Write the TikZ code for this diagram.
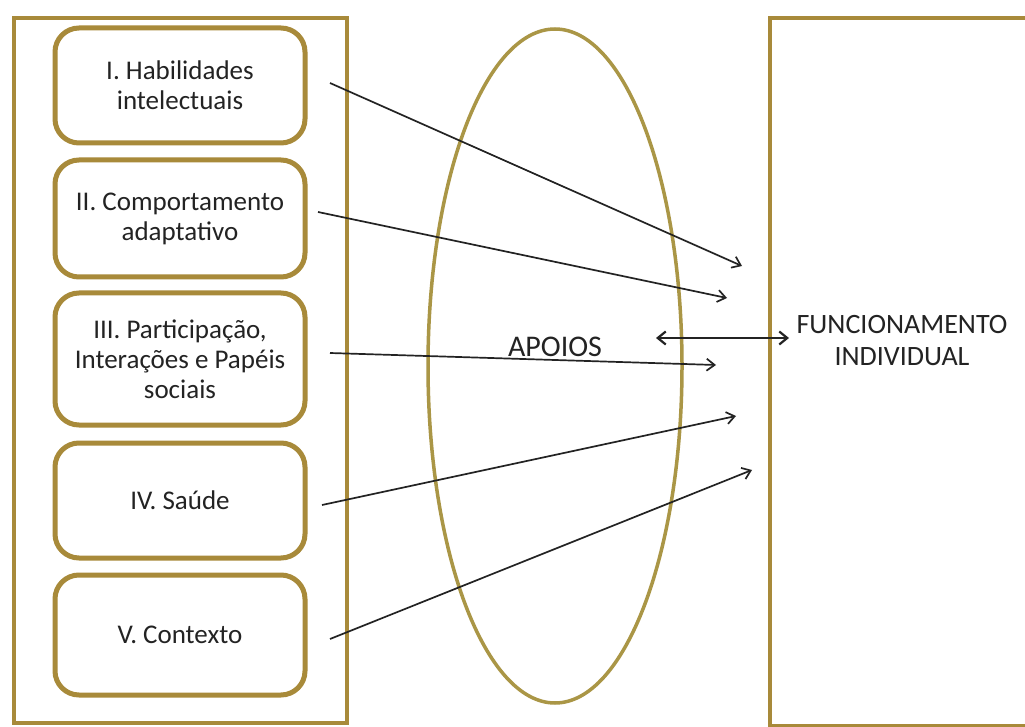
\documentclass[tikz,border=0pt]{standalone}
\usepackage{fontspec}
\setmainfont{Carlito}
\usetikzlibrary{arrows.meta}
\definecolor{gold}{RGB}{168,138,58}
\definecolor{ellgold}{RGB}{170,150,70}
\definecolor{ink}{RGB}{35,35,35}
\tikzset{
  frame/.style={draw=gold, line width=4.5pt},
  item/.style={draw=gold, line width=5pt, rounded corners=24pt, minimum width=250pt, align=center, font=\fontsize{27}{30}\selectfont, text=ink},
  lbl/.style={align=center, text=ink},
  arr/.style={draw=ink, line width=1.7pt, -{Straight Barb[length=8pt,width=12pt]}},
  darr/.style={draw=ink, line width=2.2pt, {Straight Barb[length=8pt,width=13pt]}-{Straight Barb[length=8pt,width=13pt]}}
}
\begin{document}
\begin{tikzpicture}[x=1pt,y=-1pt]
\clip (0,0) rectangle (1025,727);
\fill[white] (0,0) rectangle (1025,727);
% outer frames
\node[frame, minimum width=333pt, minimum height=705pt, inner sep=0pt] (left) at (180.5,370.5) {};
\node[frame, minimum width=262pt, minimum height=708pt, inner sep=0pt] (right) at (901,372) {};
% ellipse
\draw[ellgold, line width=3.5pt] (555,366) ellipse [x radius=127, y radius=337];
\node (ell) at (555,366) {};
% items
\node[item, minimum height=115pt] (b1) at (180,85.5) {I. Habilidades\\intelectuais};
\node[item, minimum height=117pt] (b2) at (180,218.5) {II. Comportamento\\adaptativo};
\node[item, minimum height=132pt] (b3) at (180,359) {III. Participação,\\Interações e Papéis\\sociais};
\node[item, minimum height=115pt] (b4) at (180,500.5) {IV. Saúde};
\node[item, minimum height=120pt] (b5) at (180,635) {V. Contexto};
% labels
\node[lbl, font=\fontsize{30}{32}\selectfont] (apoios) at (555,347) {APOIOS};
\node[lbl, font=\fontsize{28}{32}\selectfont] (func) at (902,341) {FUNCIONAMENTO\\INDIVIDUAL};
% arrow ends
\coordinate (s1) at (330,83);  \coordinate (e1) at (742,266);
\coordinate (s2) at (318,212); \coordinate (e2) at (727,298);
\coordinate (s3) at (330,353); \coordinate (e3) at (716,365);
\coordinate (s4) at (322,505); \coordinate (e4) at (736,416);
\coordinate (s5) at (330,639); \coordinate (e5) at (752,470);
\coordinate (dl) at (656,338); \coordinate (dr) at (789,338);
\draw[arr] (s1) -- (e1);
\draw[arr] (s2) -- (e2);
\draw[arr] (s3) -- (e3);
\draw[arr] (s4) -- (e4);
\draw[arr] (s5) -- (e5);
\draw[darr] (dl) -- (dr);
\end{tikzpicture}
\end{document}
